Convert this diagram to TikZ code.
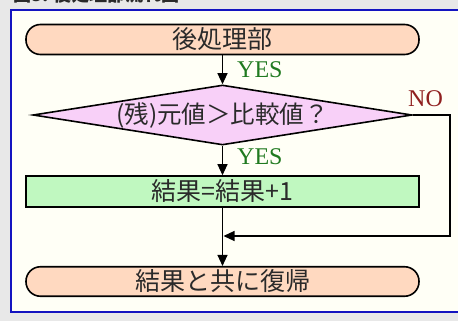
\documentclass[tikz,border=0pt]{standalone}
\usepackage{fontspec}
\setmainfont{Liberation Serif}
\newfontfamily\jp{Noto Sans CJK JP}
\usetikzlibrary{shapes.geometric,arrows.meta}
\definecolor{bggray}{HTML}{E8E8E8}
\definecolor{panel}{HTML}{FFFFF6}
\definecolor{panelborder}{HTML}{1414C0}
\definecolor{peach}{HTML}{FFD9C0}
\definecolor{pinkfill}{HTML}{F8D0F8}
\definecolor{greenfill}{HTML}{C0F8C0}
\definecolor{yescol}{HTML}{207A20}
\definecolor{nocol}{HTML}{902020}
\definecolor{txt}{HTML}{2A2A2A}
\begin{document}
\begin{tikzpicture}[x=1pt,y=-1pt,
  termbox/.style={draw=black,line width=1.6pt,fill=peach,rounded corners=14.5pt,
    minimum width=393pt,inner sep=0pt,text=txt,font=\jp\fontsize{25}{25}\selectfont},
  procbox/.style={draw=black,line width=1.6pt,fill=greenfill,
    minimum width=393pt,minimum height=31pt,inner sep=0pt,text=txt,font=\jp\fontsize{25}{25}\selectfont},
  decbox/.style={draw=black,line width=1.6pt,fill=pinkfill,diamond,shape aspect=6.3,
    minimum width=379pt,minimum height=60pt,inner sep=0pt,text=txt,font=\jp\fontsize{24.5}{25}\selectfont},
  flow/.style={line width=1.2pt,-{Triangle[length=11pt,width=10pt]}},
  yeslab/.style={text=yescol,font=\fontsize{24}{24}\selectfont,anchor=west,inner sep=0pt},
  nolab/.style={text=nocol,font=\fontsize{24}{24}\selectfont,anchor=west,inner sep=0pt}]
\useasboundingbox (0,0) rectangle (458,321);
\fill[bggray] (0,0) rectangle (458,321);
\node[anchor=base west,inner sep=0pt,text=txt,font=\jp\bfseries\fontsize{18}{18}\selectfont] (title) at (13,1.5) {図3. 後処理部流れ図};
\filldraw[fill=panel,draw=panelborder,line width=2pt] (11,10) rectangle (480,312);
\node[termbox,minimum height=30pt] (top) at (222.5,39.5) {後処理部};
\node[decbox] (dia) at (222.5,115) {(残)元値＞比較値？};
\node[procbox] (proc) at (222.5,191.5) {結果=結果+1};
\node[termbox,minimum height=29.5pt] (bot) at (222.5,281.5) {結果と共に復帰};
\coordinate (nocorner) at (450,236);
\coordinate (join) at (223.5,236);
\draw[flow] (top) -- (dia.north);
\draw[flow] (dia.south) -- (proc);
\draw[flow] (proc) -- (bot);
\draw[flow] (dia.east) -| (nocorner) -- (join);
\node[yeslab] (yes1) at (237,70) {YES};
\node[yeslab] (yes2) at (237,157) {YES};
\node[nolab] (no) at (408,99) {NO};
\end{tikzpicture}
\end{document}
